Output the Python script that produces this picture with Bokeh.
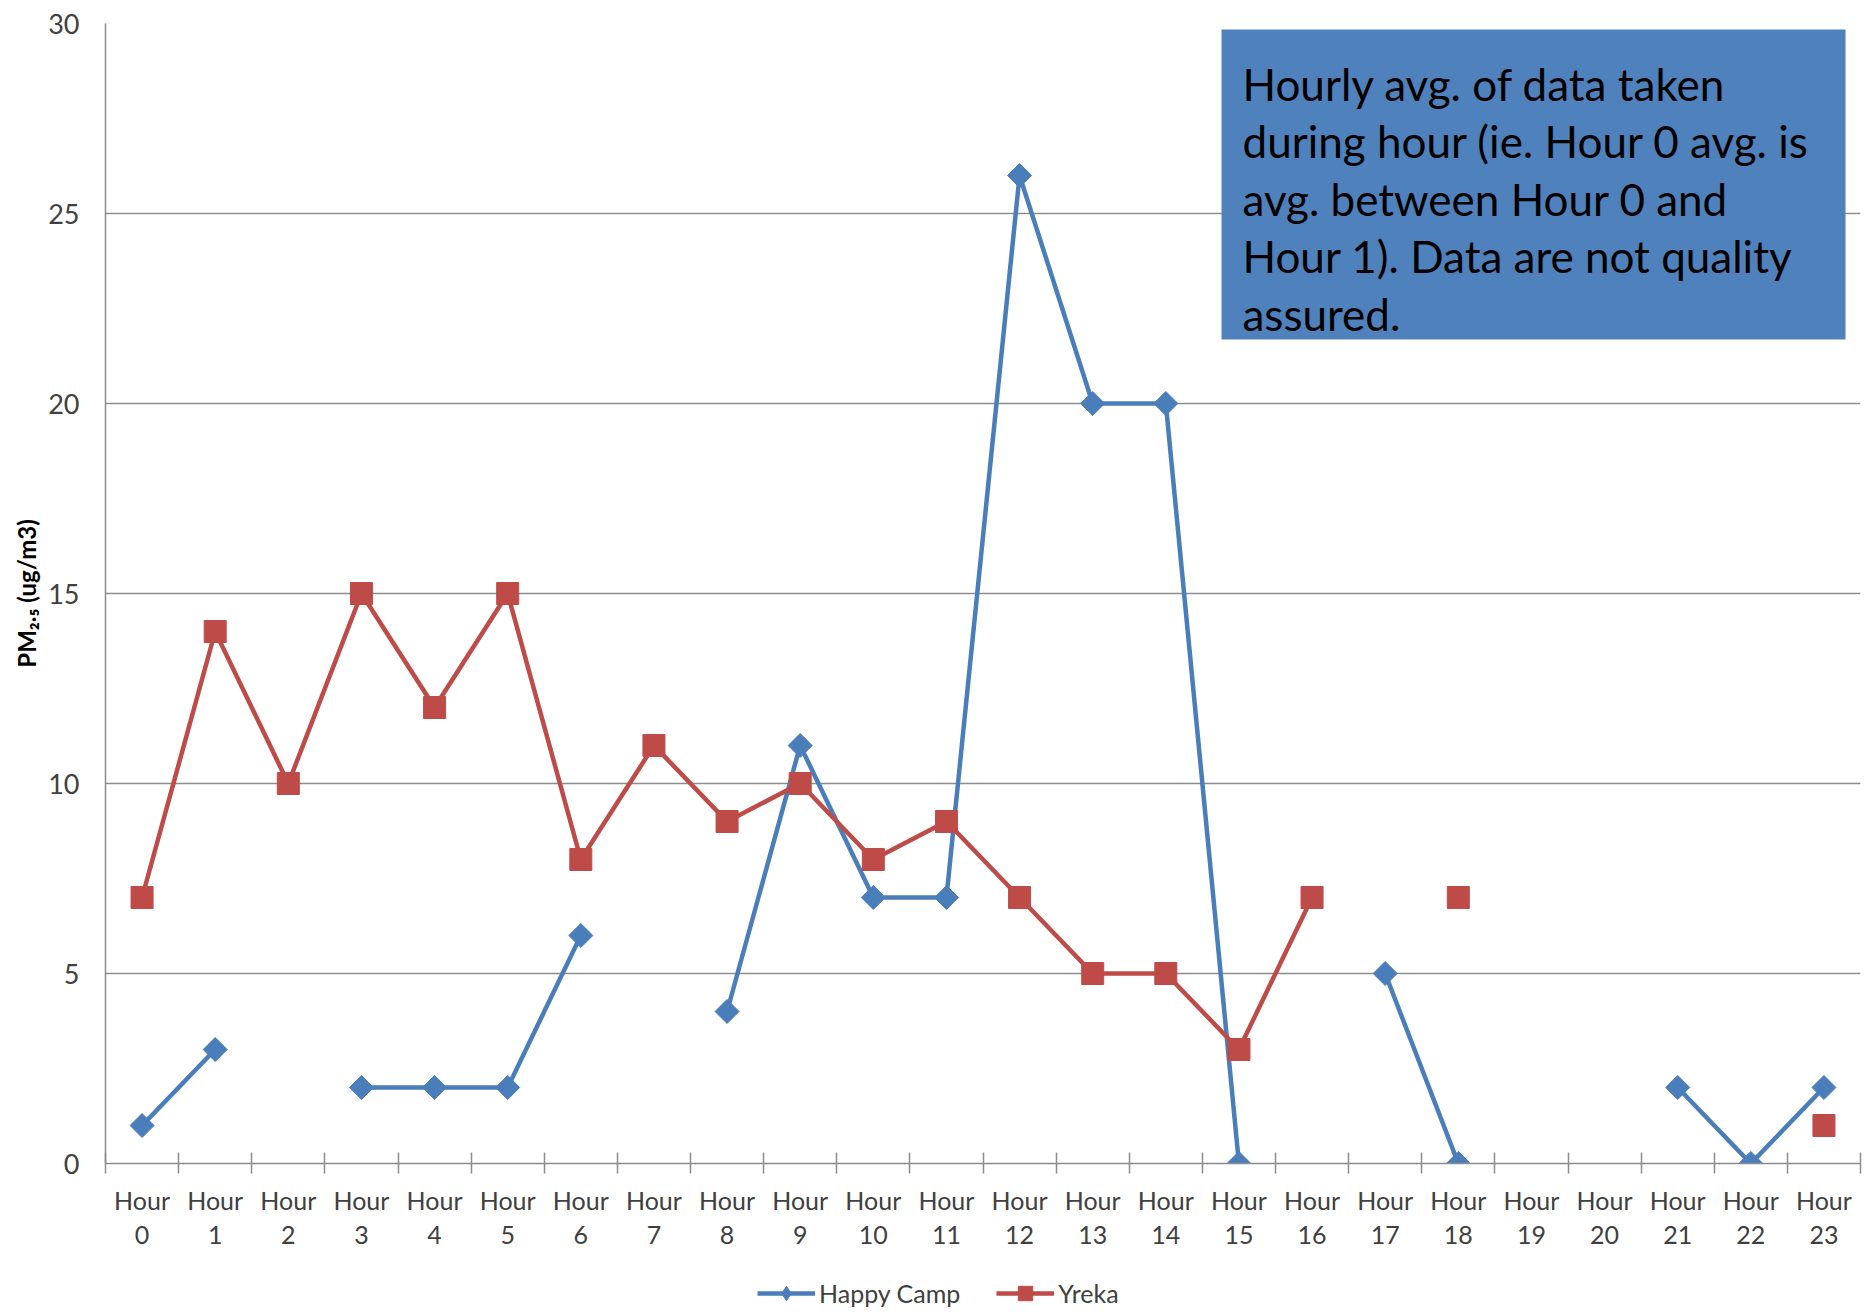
import math
from bokeh.plotting import figure
from bokeh.layouts import column
from bokeh.models import (FixedTicker, Label, BoxAnnotation, Legend, LegendItem, Range1d)
from bokeh.embed import file_html
from bokeh.resources import INLINE

hours = list(range(24))
tick_labels = [f"Hour\n{h}" for h in hours]
nan = float("nan")
happy_camp = [1, 3, nan, 2, 2, 2, 6, nan, 4, 11, 7, 7, 26, 20, 20, 0, nan, 5, 0, nan, nan, 2, 0, 2]
yreka = [7, 14, 10, 15, 12, 15, 8, 11, 9, 10, 8, 9, 7, 5, 5, 3, 7, nan, 7, nan, nan, nan, nan, 1]
y_ticks = [0, 5, 10, 15, 20, 25, 30]
series_names = ["Happy Camp", "Yreka"]
note_lines = ["Hourly avg. of data taken",
              "during hour (ie. Hour 0 avg. is",
              "avg. between Hour 0 and",
              "Hour 1).  Data are not quality",
              "assured."]

FONT = "Lato"
BLUE = "#4A7EBB"
RED = "#BE4B48"
GRID = "#8C8C8C"
TXT = "#404040"

W, H = 1865, 1258
H_LEG = 1312 - H
# page coords of frame
FL, FR, FT, FB = 105, 1860, 23, 1163

p = figure(width=W, height=H, output_backend="svg", toolbar_location=None,
           x_range=Range1d(-0.5, 23.5), y_range=Range1d(0, 30),
           min_border_left=FL, min_border_right=W - FR, min_border_top=FT,
           min_border_bottom=H - FB)
p.outline_line_color = None
p.background_fill_color = "white"
p.border_fill_color = "white"

def px2x(px):
    return (px - FL) / ((FR - FL) / 24.0) - 0.5

def py2y(py):
    return (FB - py) / ((FB - FT) / 30.0)

# axes
xa = p.xaxis[0]
xa.ticker = FixedTicker(ticks=hours, minor_ticks=[h - 0.5 for h in hours] + [23.5])
xa.major_label_overrides = {h: lab for h, lab in zip(hours, tick_labels)}
xa.major_tick_line_color = None
xa.major_tick_in = 0
xa.major_tick_out = 0
xa.minor_tick_line_color = GRID
xa.minor_tick_line_width = 1.5
xa.minor_tick_in = 11
xa.minor_tick_out = 10
xa.axis_line_color = GRID
xa.axis_line_width = 1.5
xa.major_label_text_font = FONT
xa.major_label_text_font_size = "25px"
xa.major_label_text_color = TXT
xa.major_label_text_line_height = 1.15
xa.major_label_standoff = 11

ya = p.yaxis[0]
ya.ticker = FixedTicker(ticks=y_ticks)
ya.major_tick_line_color = None
ya.minor_tick_line_color = None
ya.major_tick_in = 0
ya.major_tick_out = 0
ya.axis_line_color = GRID
ya.axis_line_width = 1.5
ya.major_label_text_font = FONT
ya.major_label_text_font_size = "27px"
ya.major_label_text_color = TXT
ya.major_label_standoff = 26
ya.axis_label = "PM\u2082.\u2085 (ug/m3)"
ya.axis_label_text_font = FONT
ya.axis_label_text_font_size = "24px"
ya.axis_label_text_font_style = "bold"
ya.axis_label_text_color = "black"
ya.axis_label_standoff = 4

p.xgrid.grid_line_color = None
p.ygrid.ticker = FixedTicker(ticks=y_ticks)
p.ygrid.grid_line_color = GRID
p.ygrid.grid_line_width = 1.5

# series
p.line(hours, happy_camp, line_color=BLUE, line_width=4.5)
p.scatter(hours, happy_camp, marker="square", angle=math.pi / 4, size=17,
          fill_color=BLUE, line_color=BLUE)
p.line(hours, yreka, line_color=RED, line_width=4.5)
p.scatter(hours, yreka, marker="square", size=22, fill_color=RED, line_color=RED)

# note box
p.add_layout(BoxAnnotation(left=px2x(1221), right=px2x(1845), top=py2y(29), bottom=py2y(339),
                           fill_color="#4F81BD", fill_alpha=1.0, line_color=None, level="overlay"))
for i, t in enumerate(note_lines):
    p.add_layout(Label(x=px2x(1242), y=py2y(83 + 57.5 * i), text=t, text_font=FONT,
                       text_font_size="44px", text_color="black", text_baseline="alphabetic",
                       text_align="left", level="overlay"))

# legend strip below the chart
q = figure(width=W, height=H_LEG, output_backend="svg", toolbar_location=None,
           x_range=Range1d(0, 1), y_range=Range1d(0, 1),
           x_axis_location=None, y_axis_location=None,
           min_border_left=0, min_border_right=0, min_border_top=0, min_border_bottom=0)
q.outline_line_color = None
q.grid.visible = False
q.background_fill_color = "white"
q.border_fill_color = "white"
# legend-only renderers, placed outside the visible range
ql1 = q.line([-5, -4], [-5, -5], line_color=BLUE, line_width=4.5)
qs1 = q.scatter([-5], [-5], marker="diamond", fill_color=BLUE, line_color=BLUE)
ql2 = q.line([-5, -4], [-5, -5], line_color=RED, line_width=4.5)
qs2 = q.scatter([-5], [-5], marker="square", fill_color=RED, line_color=RED)

LEG_H = 36
legend = Legend(items=[LegendItem(label=series_names[0], renderers=[ql1, qs1]),
                       LegendItem(label=series_names[1], renderers=[ql2, qs2])],
                orientation="horizontal", location=(757 - FL, H_LEG - 17 - LEG_H),
                padding=0, margin=0, spacing=36, glyph_width=58, glyph_height=LEG_H,
                label_height=LEG_H,
                label_standoff=4, label_text_font=FONT, label_text_font_size="25px",
                label_text_color=TXT, border_line_color=None, background_fill_alpha=0)
q.add_layout(legend, "center")

layout = column(p, q, spacing=0)
open("out.html", "w").write(file_html(layout, INLINE))
